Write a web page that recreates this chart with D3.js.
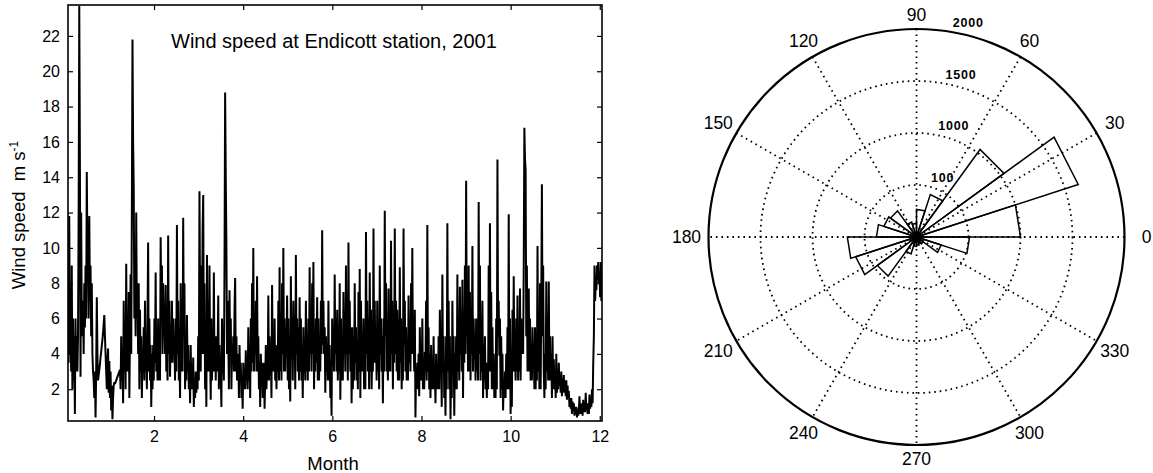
<!DOCTYPE html>
<html>
<head>
<meta charset="utf-8">
<script src="https://cdn.jsdelivr.net/npm/d3@7"></script>
<style>
  body { margin: 0; background: #fff; }
  svg { display: block; font-family: "Liberation Sans", Arial, Helvetica, sans-serif; }
</style>
</head>
<body>
<svg width="1153" height="473"></svg>
<script>
// wind speed (m/s), samples evenly spaced through the year
var speed = [
  8.5, 3.5, 11.8, 4, 7, 3, 9, 2, 6, 2.5, 5, 0.6, 6, 3, 5, 3,
  5, 12, 23.7, 15, 2.7, 12, 6, 5, 7, 4, 8, 5.5, 9, 6, 14.3, 10,
  10, 6, 11.8, 7, 9, 5, 8, 4, 3, 2.5, 1.5, 3, 0.4, 3, 7.2, 4,
  2.5, 2.8, 3.1, 3.4, 3.8, 4.1, 4.5, 4.8, 5.2, 5.7, 6.2, 5, 4, 3, 2, 3.5,
  4.3, 1.8, 3.6, 1.5, 3, 0.8, 2.2, 0.3, 1.5, 2.2, 2.4, 2.3, 2.4, 2.5, 2.6, 2.7,
  2.8, 2.9, 3.0, 3.1, 2.0, 5, 2.5, 4, 1.2, 7, 3, 5, 2, 9.1, 3, 6,
  3, 7.5, 1.5, 5, 8.5, 4, 12, 21.8, 16, 13.4, 6, 9, 5, 12, 6, 8,
  4, 8, 2, 6.5, 3, 5, 1.5, 4, 3, 5.5, 2.5, 7, 3, 4.5, 2, 6,
  10.3, 3, 6, 2.5, 4.5, 1, 4, 2, 4.5, 2.5, 6, 3.5, 8.6, 3, 5, 2.5,
  6, 2.5, 4.5, 2.5, 10.6, 6.5, 9, 4, 8, 5.5, 6, 4, 7.9, 3, 5, 2.5,
  10.7, 4, 7, 2.7, 5, 3.5, 7, 3.5, 6, 4, 5, 2.5, 6, 3, 11.3, 4,
  7, 2.5, 4, 1.5, 8, 3, 6, 3, 11.7, 5, 8, 2, 4, 2.5, 6.2, 3,
  4.5, 2, 3.5, 1.2, 4.5, 2, 3, 2, 3.8, 1, 2.5, 1.5, 3, 1.8, 3, 2,
  5, 2.5, 13.2, 7, 3, 9, 4, 11, 13, 4, 8, 2, 5, 1, 9.6, 3,
  6, 3, 9, 4, 1.4, 6, 2.5, 5, 3, 8.6, 3, 5, 2.5, 5, 3, 4,
  7.3, 2, 4.5, 2.5, 3, 1, 6, 3, 4, 2.5, 9, 18.8, 14, 10.3, 4, 7,
  5, 2, 7.6, 4, 6, 2, 4.5, 3.5, 5, 3, 6.5, 8.3, 3, 5, 2.5, 3.5,
  4, 1.5, 4.5, 2.5, 3.5, 1.5, 2.8, 0.9, 3.5, 2, 3, 2, 4.2, 2.5, 3, 2,
  5.5, 2.5, 4, 1.5, 6, 3, 8, 3.5, 10, 3, 5.5, 4, 7, 3, 8.4, 3,
  5, 2, 3.5, 1, 4, 2.5, 3.5, 1.5, 2.5, 3.5, 0.9, 2.5, 4.5, 2, 3.5, 2.5,
  7.3, 2.5, 5, 3, 4, 1.5, 7.9, 3, 5, 3, 6, 2.5, 4.5, 2, 4, 3,
  7, 2.5, 8.9, 3, 6, 2.5, 8, 4, 10, 3, 6, 3, 5, 4, 7.3, 2.5,
  6, 2, 4, 1.3, 8.4, 4, 6, 2.5, 7, 4, 5.5, 2, 9.6, 4, 6, 3,
  5.5, 2.5, 7.2, 3, 6, 2.5, 4, 1.5, 5.5, 3, 4, 2.5, 7, 3, 5, 2.5,
  6, 3, 8.9, 4, 6.5, 3, 8, 4, 9.2, 2, 5, 3, 6, 3.5, 7.2, 2.5,
  6, 2.5, 4.5, 3, 7, 4, 11, 4.5, 7, 4, 5.5, 1.8, 5, 3, 4.5, 2.5,
  7, 2.5, 4.5, 1.5, 3, 0.5, 6, 3.5, 4.5, 3, 8.5, 4, 6, 3, 6.5, 2.5,
  5.5, 3, 8, 1.4, 6, 2.5, 5, 2.5, 7.5, 4, 5.5, 3, 9, 4, 6, 2.5,
  10.3, 4, 7, 3, 5.5, 1.2, 5.5, 2, 5, 2.5, 8, 3.5, 5.5, 2.5, 4.5, 2,
  7.5, 3, 8.8, 1.5, 7, 3, 5, 3, 6, 2, 4.5, 2, 10.9, 4, 7, 3,
  6, 2, 8.6, 3, 6.5, 2, 4.5, 3, 11.1, 3.5, 7, 3.5, 5, 2.5, 7, 3,
  5, 2, 9, 4, 6, 3, 5, 1.2, 6, 3, 12.1, 5, 8, 3, 4.5, 2.5,
  7.7, 3, 6, 3, 10.4, 4, 7, 2, 6, 3.5, 11.1, 4, 7, 3, 6.5, 2.5,
  6, 2.5, 8.9, 3.5, 6, 2, 5, 2.5, 11.1, 4.5, 7, 3, 5.5, 2.5, 4.5, 2.5,
  7.3, 3.5, 6, 3, 8, 4, 10, 4, 6, 3, 6.5, 0.4, 3, 2, 3.5, 2,
  4, 1.6, 5.5, 2.5, 4, 2.5, 6, 2, 3.5, 2, 4.1, 3, 7, 2.5, 11.3, 3,
  5.5, 2, 4, 1.5, 4.5, 2, 3.5, 2, 5, 2, 3, 1.2, 4, 2, 3.5, 2,
  5, 2, 6.5, 3.5, 4, 1, 8.5, 3, 5, 1.5, 3, 0.5, 5, 2, 11.4, 3,
  7, 2, 5, 0.3, 3, 1.5, 7, 3, 5, 0.5, 4, 2, 5, 2, 8.5, 3,
  5, 2.5, 7.8, 4, 6, 3, 8.2, 1.5, 6, 3.5, 9, 4, 13.8, 5, 6.5, 3,
  9, 3, 7.5, 2.5, 6, 4, 10.1, 3, 6, 4, 5, 2.5, 6, 3, 5, 2.5,
  12.6, 4, 9, 2.5, 6, 3, 7, 1.5, 4.5, 2.5, 5, 2, 3.5, 1.5, 3.5, 2,
  9, 3, 11.4, 3, 7.5, 2, 5.5, 2, 4, 1.5, 3.5, 1.5, 6, 2, 15, 5,
  7, 3.9, 6, 1.5, 5, 2, 4, 0.8, 2.5, 1.5, 3, 1.5, 4, 2, 5.5, 2,
  11.9, 2, 6, 0.6, 2.5, 1, 6.5, 3, 8.4, 3, 4.5, 2.5, 6, 3, 7.3, 2.5,
  5, 3, 7.7, 2.5, 6, 4, 5, 4, 9, 16.8, 15, 14.4, 5, 9, 3, 6,
  7.7, 3, 6, 2.5, 4.5, 2.5, 5.5, 3.5, 4.1, 2, 5.5, 2, 5, 2.5, 10.1, 3,
  6, 2, 8, 2, 7, 13.6, 5, 9, 3, 1.5, 4, 2, 8.1, 3, 5, 2.5,
  8.1, 2.5, 5, 2.5, 4, 1.5, 5, 2, 3.7, 2, 3, 1.5, 4, 1.8, 3, 2,
  3.5, 2.2, 2.8, 1.8, 3, 1.6, 2.6, 1.8, 2.8, 1.8, 2.5, 1.6, 2.5, 1.4, 2.2, 1.5,
  1.9, 1.0, 1.5, 0.9, 1.5, 0.6, 1.3, 0.8, 1.2, 0.5, 1.0, 0.6, 1.0, 0.4, 0.9, 0.5,
  0.8, 1.6, 0.6, 1.2, 0.6, 1.2, 0.5, 1.4, 0.7, 1.0, 0.7, 1.8, 0.8, 1.2, 0.6, 1.2,
  0.6, 1.7, 0.9, 1.5, 1.0, 2, 1.2, 3.5, 5, 9, 7, 8, 7.6, 9, 8.2, 9.2,
  8, 8.6, 7.2, 9.2, 7, 7.5
];
var firstMonth = 0.07, lastMonth = 12.05;
var monthTicks = [2, 4, 6, 8, 10, 12];
var speedTicks = [2, 4, 6, 8, 10, 12, 14, 16, 18, 20, 22];

// wind direction rose: counts in 20 bins of 18 degrees, starting at 0 deg
var binCounts = [1000, 1635, 1040, 430, 265, 130, 150, 310, 330, 385,
                 665, 615, 465, 170, 90, 80, 60, 80, 250, 510];
var ringValues = [500, 1000, 1500, 2000];
var ringLabels = ["100", "1000", "1500", "2000"];
var angleTicks = [0, 30, 60, 90, 120, 150, 180, 210, 240, 270, 300, 330];

var svg = d3.select("svg");

// ---------- time series ----------
var plotL = 68, plotR = 602, plotT = 5, plotB = 421;
var x = d3.scaleLinear().domain([firstMonth, lastMonth]).range([plotL, plotR]);
var y = d3.scaleLinear().domain([0.2, 23.75]).range([plotB, plotT]);
var idx = d3.scaleLinear().domain([0, speed.length - 1]).range([firstMonth, lastMonth]);

svg.append("clipPath").attr("id", "plotclip")
  .append("rect").attr("x", plotL).attr("y", plotT)
  .attr("width", plotR - plotL).attr("height", plotB - plotT);

var line = d3.line()
  .x(function(d, i){ return x(idx(i)); })
  .y(function(d){ return y(d); });

svg.append("path")
  .datum(speed)
  .attr("clip-path", "url(#plotclip)")
  .attr("d", line)
  .attr("fill", "none")
  .attr("stroke", "#000")
  .attr("stroke-width", 2)
  .attr("stroke-linejoin", "bevel");

function styleAxis(g){
  g.select(".domain").remove();
  g.attr("font-family", null).attr("font-size", 16);
  g.selectAll(".tick line").attr("stroke", "#000").attr("stroke-width", 1.2);
  g.selectAll(".tick text").attr("fill", "#000");
}

svg.append("g").attr("transform", "translate(0," + plotB + ")")
  .call(d3.axisBottom(x).tickValues(monthTicks).tickSize(-5).tickPadding(9.5))
  .call(styleAxis);
svg.append("g").attr("transform", "translate(0," + plotT + ")")
  .call(d3.axisTop(x).tickValues(monthTicks).tickSize(-5).tickFormat(""))
  .call(styleAxis);
svg.append("g").attr("transform", "translate(" + plotL + ",0)")
  .call(d3.axisLeft(y).tickValues(speedTicks).tickSize(-5).tickPadding(8))
  .call(styleAxis);
svg.append("g").attr("transform", "translate(" + plotR + ",0)")
  .call(d3.axisRight(y).tickValues(speedTicks).tickSize(-5).tickFormat(""))
  .call(styleAxis);

svg.append("rect")
  .attr("x", plotL).attr("y", plotT)
  .attr("width", plotR - plotL).attr("height", plotB - plotT)
  .attr("fill", "none").attr("stroke", "#000").attr("stroke-width", 1.6);

svg.append("text")
  .attr("x", 171).attr("y", 47.5)
  .attr("font-size", 20)
  .text("Wind speed at Endicott station, 2001");

svg.append("text")
  .attr("x", 333).attr("y", 470)
  .attr("text-anchor", "middle")
  .attr("font-size", 18.5)
  .text("Month");

var ylab = svg.append("text")
  .attr("transform", "translate(25,215) rotate(-90)")
  .attr("text-anchor", "middle")
  .attr("font-size", 18.5);
ylab.append("tspan").text("Wind speed\u00A0\u00A0m s");
ylab.append("tspan").attr("font-size", 12).attr("dy", -7).text("-1");

// ---------- polar rose ----------
var cx = 916.5, cy = 237, R = 208;
var r = d3.scaleLinear().domain([0, 2000]).range([0, R]);
var polar = svg.append("g").attr("transform", "translate(" + cx + "," + cy + ")");

function pt(deg, rad){
  var a = deg * Math.PI / 180;
  return [rad * Math.cos(a), -rad * Math.sin(a)];
}

var dotted = { "stroke": "#000", "stroke-width": 1.8, "stroke-dasharray": "1.6,3.9", "fill": "none" };

ringValues.slice(0, -1).forEach(function(v){
  var c = polar.append("circle").attr("r", r(v));
  for (var k in dotted) c.attr(k, dotted[k]);
});

[0, 30, 60, 90, 120, 150].forEach(function(a){
  var p0 = pt(a, R), p1 = pt(a + 180, R);
  var l = polar.append("line")
    .attr("x1", p0[0]).attr("y1", p0[1]).attr("x2", p1[0]).attr("y2", p1[1]);
  for (var k in dotted) l.attr(k, dotted[k]);
});

polar.append("circle").attr("r", r(2000))
  .attr("fill", "none").attr("stroke", "#000").attr("stroke-width", 2.2);

// labels sit a little closer above/below than at the sides (text is wider than tall)
function labelRadius(d){ return 222 + 8 * Math.abs(Math.cos(d * Math.PI / 180)); }

polar.selectAll(".alab").data(angleTicks).join("text")
  .attr("class", "alab")
  .attr("x", function(d){ return pt(d, labelRadius(d))[0]; })
  .attr("y", function(d){ return pt(d, labelRadius(d))[1]; })
  .attr("text-anchor", "middle")
  .attr("dominant-baseline", "central")
  .attr("font-size", 17.5)
  .text(function(d){ return d; });

polar.selectAll(".rlab").data(ringValues).join("text")
  .attr("class", "rlab")
  .attr("x", function(d){ return pt(82, r(d + 25))[0] + 7; })
  .attr("y", function(d){ return pt(82, r(d + 25))[1] - 1; })
  .attr("font-size", 12.5)
  .attr("font-weight", "bold")
  .attr("letter-spacing", 0.8)
  .text(function(d, i){ return ringLabels[i]; });

var step = 360 / binCounts.length;
polar.selectAll(".petal").data(binCounts).join("path")
  .attr("class", "petal")
  .attr("d", function(d, i){
    var a = pt(i * step, r(d)), b = pt((i + 1) * step, r(d));
    return "M0,0L" + a[0] + "," + a[1] + "L" + b[0] + "," + b[1] + "Z";
  })
  .attr("fill", "none")
  .attr("stroke", "#000")
  .attr("stroke-width", 1.5)
  .attr("stroke-linejoin", "miter");
</script>
</body>
</html>
